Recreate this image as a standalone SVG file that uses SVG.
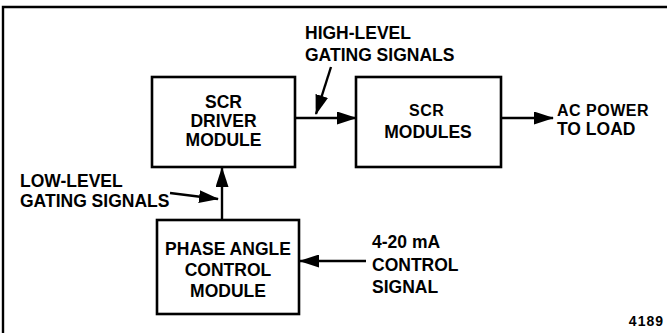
<svg xmlns="http://www.w3.org/2000/svg" width="667" height="333" viewBox="0 0 667 333">
<defs>
<style>
.box{fill:#fff;stroke:#000;stroke-width:2.6}
.ln{stroke:#000;stroke-width:2.4;fill:none}
text{font-family:"Liberation Sans",Arial,Helvetica,sans-serif;font-weight:bold;font-size:17.5px;fill:#000}
.c{text-anchor:middle}
.sm{font-size:16px;letter-spacing:0.5px}
</style>
<marker id="ah" markerUnits="userSpaceOnUse" markerWidth="20" markerHeight="13" refX="19" refY="6.5" orient="auto">
<path d="M0,0 L20,6.5 L0,13 z" fill="#000"/>
</marker>
</defs>
<rect width="667" height="333" fill="#fff"/>
<g id="frame">
<path class="ln" d="M3,333 L3,7 L667,7" stroke-width="2.8"/>
</g>
<g id="driver">
<rect class="box" x="152" y="77" width="143" height="90"/>
<text class="c" x="223.5" y="108">SCR</text>
<text class="c" x="223.5" y="127">DRIVER</text>
<text class="c" x="223.5" y="146">MODULE</text>
</g>
<g id="modules">
<rect class="box" x="356" y="77" width="145" height="90"/>
<text class="sm" x="409" y="116">SCR</text>
<text class="c" x="428" y="138">MODULES</text>
</g>
<g id="phase">
<rect class="box" x="157" y="220" width="142" height="94"/>
<text class="c" x="228" y="255">PHASE ANGLE</text>
<text class="c" x="228" y="276">CONTROL</text>
<text class="c" x="228" y="297">MODULE</text>
</g>
<g id="connectors">
<line class="ln" x1="296" y1="118" x2="356" y2="118" marker-end="url(#ah)"/>
<line class="ln" x1="502" y1="118" x2="553" y2="118" marker-end="url(#ah)"/>
<line class="ln" x1="222" y1="219" x2="222" y2="168" marker-end="url(#ah)"/>
<line class="ln" x1="366" y1="261" x2="300" y2="261" marker-end="url(#ah)"/>
<line class="ln" x1="331" y1="67" x2="316" y2="114" stroke-width="3" marker-end="url(#ah)"/>
<line class="ln" x1="170" y1="193" x2="218" y2="199" marker-end="url(#ah)"/>
</g>
<g id="labels">
<text x="305" y="39">HIGH-LEVEL</text>
<text x="305" y="61">GATING SIGNALS</text>
<text class="sm" x="557" y="116">AC POWER</text>
<text x="557" y="135">TO LOAD</text>
<text x="20" y="187">LOW-LEVEL</text>
<text x="20" y="207">GATING SIGNALS</text>
<text x="372" y="248">4-20 mA</text>
<text x="372" y="271">CONTROL</text>
<text x="372" y="293">SIGNAL</text>
<text x="664" y="326" text-anchor="end" style="font-size:14px;letter-spacing:1px">4189</text>
</g>
</svg>
